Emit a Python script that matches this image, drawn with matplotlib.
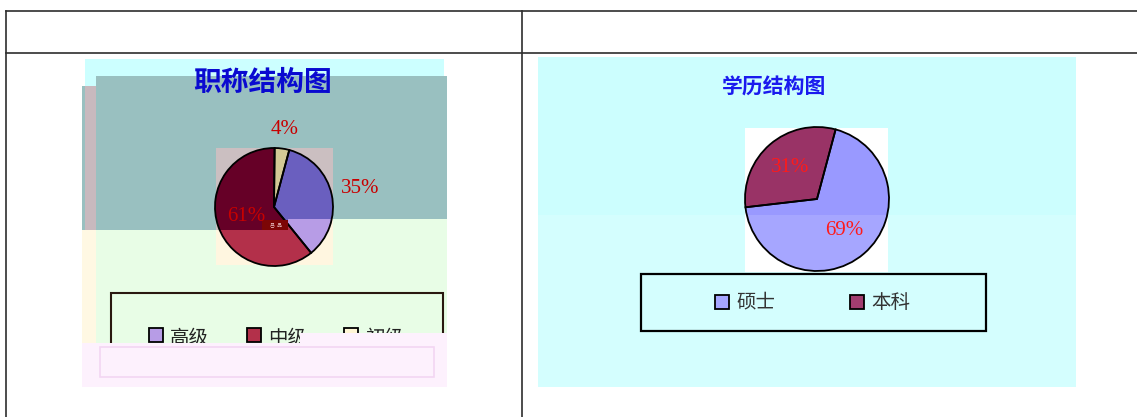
import matplotlib
matplotlib.use('Agg')
import matplotlib.pyplot as plt
from matplotlib.patches import Rectangle, Polygon
import numpy as np

plt.rcParams['font.family'] = ['Noto Sans CJK SC', 'DejaVu Sans']

# ---------------- data ----------------
title1 = '职称结构图'
cats1 = ['高级', '中级', '初级']
vals1 = [35, 61, 4]
pct1 = ['35%', '61%', '4%']

title2 = '学历结构图'
cats2 = ['硕士', '本科']
vals2 = [69, 31]
pct2 = ['69%', '31%']

# ---------------- figure ----------------
W, H = 1137, 417
fig = plt.figure(figsize=(W / 100, H / 100), dpi=100)
ax = fig.add_axes([0, 0, 1, 1])


def Y(y):
    return H - y


def rect(x0, y0, x1, y1, fc, ec='none', lw=0, z=1):
    r = Rectangle((x0, Y(y1)), x1 - x0, y1 - y0, facecolor=fc,
                  edgecolor=ec, linewidth=lw, zorder=z)
    ax.add_patch(r)
    return r


def poly(pts, fc, z=1):
    p = Polygon([(x, Y(y)) for x, y in pts], closed=True, facecolor=fc,
                edgecolor='none', zorder=z)
    ax.add_patch(p)
    return p


def draw_pie(vals, center, r, start, light, dark, clip_pts, z=10):
    cx, cy = center
    c = (cx, Y(cy))
    w1, _ = ax.pie(vals, colors=light, startangle=start, counterclock=False,
                   center=c, radius=r, frame=True,
                   wedgeprops=dict(edgecolor='none', linewidth=0))
    for w in w1:
        w.set_zorder(z)
    w2, _ = ax.pie(vals, colors=dark, startangle=start, counterclock=False,
                   center=c, radius=r, frame=True,
                   wedgeprops=dict(edgecolor='none', linewidth=0))
    clip = Polygon([(x, Y(y)) for x, y in clip_pts], closed=True,
                   transform=ax.transData)
    for w in w2:
        w.set_clip_path(clip)
        w.set_clip_on(True)
        w.set_zorder(z + 1)
    w3, _ = ax.pie(vals, colors=light, startangle=start, counterclock=False,
                   center=c, radius=r, frame=True,
                   wedgeprops=dict(fill=False, edgecolor='black', linewidth=1.3))
    for w in w3:
        w.set_zorder(z + 2)
    return w1


def label_pos(wedge, center, r, dist):
    mid = np.deg2rad((wedge.theta1 + wedge.theta2) / 2)
    return center[0] + dist * r * np.cos(mid), center[1] - dist * r * np.sin(mid)


# ---------------- table lines ----------------
lc = '#2e2e2e'
ax.plot([6, W], [Y(11), Y(11)], color=lc, lw=1.2, zorder=50)
ax.plot([6, W], [Y(53), Y(53)], color=lc, lw=1.2, zorder=50)
ax.plot([6, 6], [Y(11), Y(H)], color=lc, lw=1.2, zorder=50)
ax.plot([522, 522], [Y(11), Y(H)], color=lc, lw=1.2, zorder=50)

# ---------------- left panel background ----------------
rect(85, 59, 444, 86, '#ccffff', z=1)
poly([(96, 76), (447, 76), (447, 219), (288, 219), (288, 230), (96, 230)], '#99c0c0', z=2)
rect(82, 86, 96, 230, '#99c0c0', z=2)
rect(85, 86, 96, 230, '#c8b9be', z=2)
poly([(82, 230), (288, 230), (288, 219), (447, 219), (447, 343), (82, 343)], '#e8fde6', z=2)
rect(82, 230, 96, 343, '#fff8e3', z=2)
# pie box
poly([(216, 148), (333, 148), (333, 219), (288, 219), (288, 230), (216, 230)], '#cbbfc1', z=3)
poly([(216, 230), (288, 230), (288, 219), (333, 219), (333, 265), (216, 265)], '#fff6e0', z=3)

# legend box (bottom hidden by overlay)
rect(111, 293, 443, 370, '#e8fde6', ec='#2a1810', lw=1.5, z=4)

# title 1
ax.text(263, Y(83), title1, ha='center', va='center', fontsize=20,
        color='#0a0ad0', fontweight='bold', zorder=30)

# pie 1
c1 = (274, 207)
r1 = 59
light1 = ['#b79ce6', '#b3304a', '#d3c995']
dark1 = ['#6a5fbf', '#660027', '#d3c995']
clip1 = [(150, 100), (400, 100), (400, 219), (288, 219), (288, 230), (150, 230)]
wed1 = draw_pie(vals1, c1, r1, 75, light1, dark1, clip1)

# small artefact band
rect(262, 220, 288, 230, '#7c0606', z=20)
ax.text(276, Y(225), '吕  品', ha='center', va='center', fontsize=3.5,
        color='#f0d0d0', zorder=21)

dists1 = [1.49, 0.5, 1.32]
for w, t, d in zip(wed1, pct1, dists1):
    x, y = label_pos(w, c1, r1, d)
    ax.text(x, Y(y), t, ha='center', va='center', fontsize=15,
            family='Liberation Serif', color='#c80000', zorder=25)

# legend 1
leg1_sq = [149, 247, 344]
leg1_tx = [170, 268, 365]
leg1_fc = ['#b79ce6', '#b3304a', '#fff6d5']
for sx, tx, fc, name in zip(leg1_sq, leg1_tx, leg1_fc, cats1):
    rect(sx, 328, sx + 14, 342, fc, ec='black', lw=1.3, z=6)
    ax.text(tx, Y(338), name, ha='left', va='center', fontsize=14,
            color='#222222', zorder=6)

# pink overlay at bottom
poly([(82, 343), (300, 343), (300, 333), (447, 333), (447, 387), (82, 387)], '#fdf1fd', z=40)
r_in = Rectangle((100, Y(377)), 334, 30, facecolor='none', edgecolor='#f3d6f3',
                 linewidth=1.2, zorder=41)
ax.add_patch(r_in)

# ---------------- right panel ----------------
rect(538, 57, 1076, 215, '#ccfefe', z=1)
rect(538, 215, 1076, 387, '#d4fefe', z=1)
rect(745, 128, 888, 272, '#ffffff', z=2)

ax.text(774, Y(87), title2, ha='center', va='center', fontsize=15,
        color='#1a1aee', fontweight='bold', zorder=30)

c2 = (817, 199)
r2 = 72
light2 = ['#a6a6ff', '#a33d70']
dark2 = ['#9999ff', '#993366']
clip2 = [(700, 100), (950, 100), (950, 215), (700, 215)]
wed2 = draw_pie(vals2, c2, r2, 75, light2, dark2, clip2)

for w, t in zip(wed2, pct2):
    x, y = label_pos(w, c2, r2, 0.57)
    ax.text(x, Y(y), t, ha='center', va='center', fontsize=15,
            family='Liberation Serif', color='#ff1a1a', zorder=25)

rect(641, 274, 986, 331, '#d4fefe', ec='black', lw=1.6, z=5)
leg2_sq = [715, 850]
leg2_tx = [736, 871]
leg2_fc = ['#a6a6ff', '#a33d70']
for sx, tx, fc, name in zip(leg2_sq, leg2_tx, leg2_fc, cats2):
    rect(sx, 295, sx + 14, 309, fc, ec='black', lw=1.3, z=6)
    ax.text(tx, Y(302), name, ha='left', va='center', fontsize=14,
            color='#333333', zorder=6)

ax.set_aspect('auto')
ax.set_position([0, 0, 1, 1])
ax.set_xlim(0, W)
ax.set_ylim(0, H)
ax.axis('off')

fig.savefig('out.png', dpi=100)
